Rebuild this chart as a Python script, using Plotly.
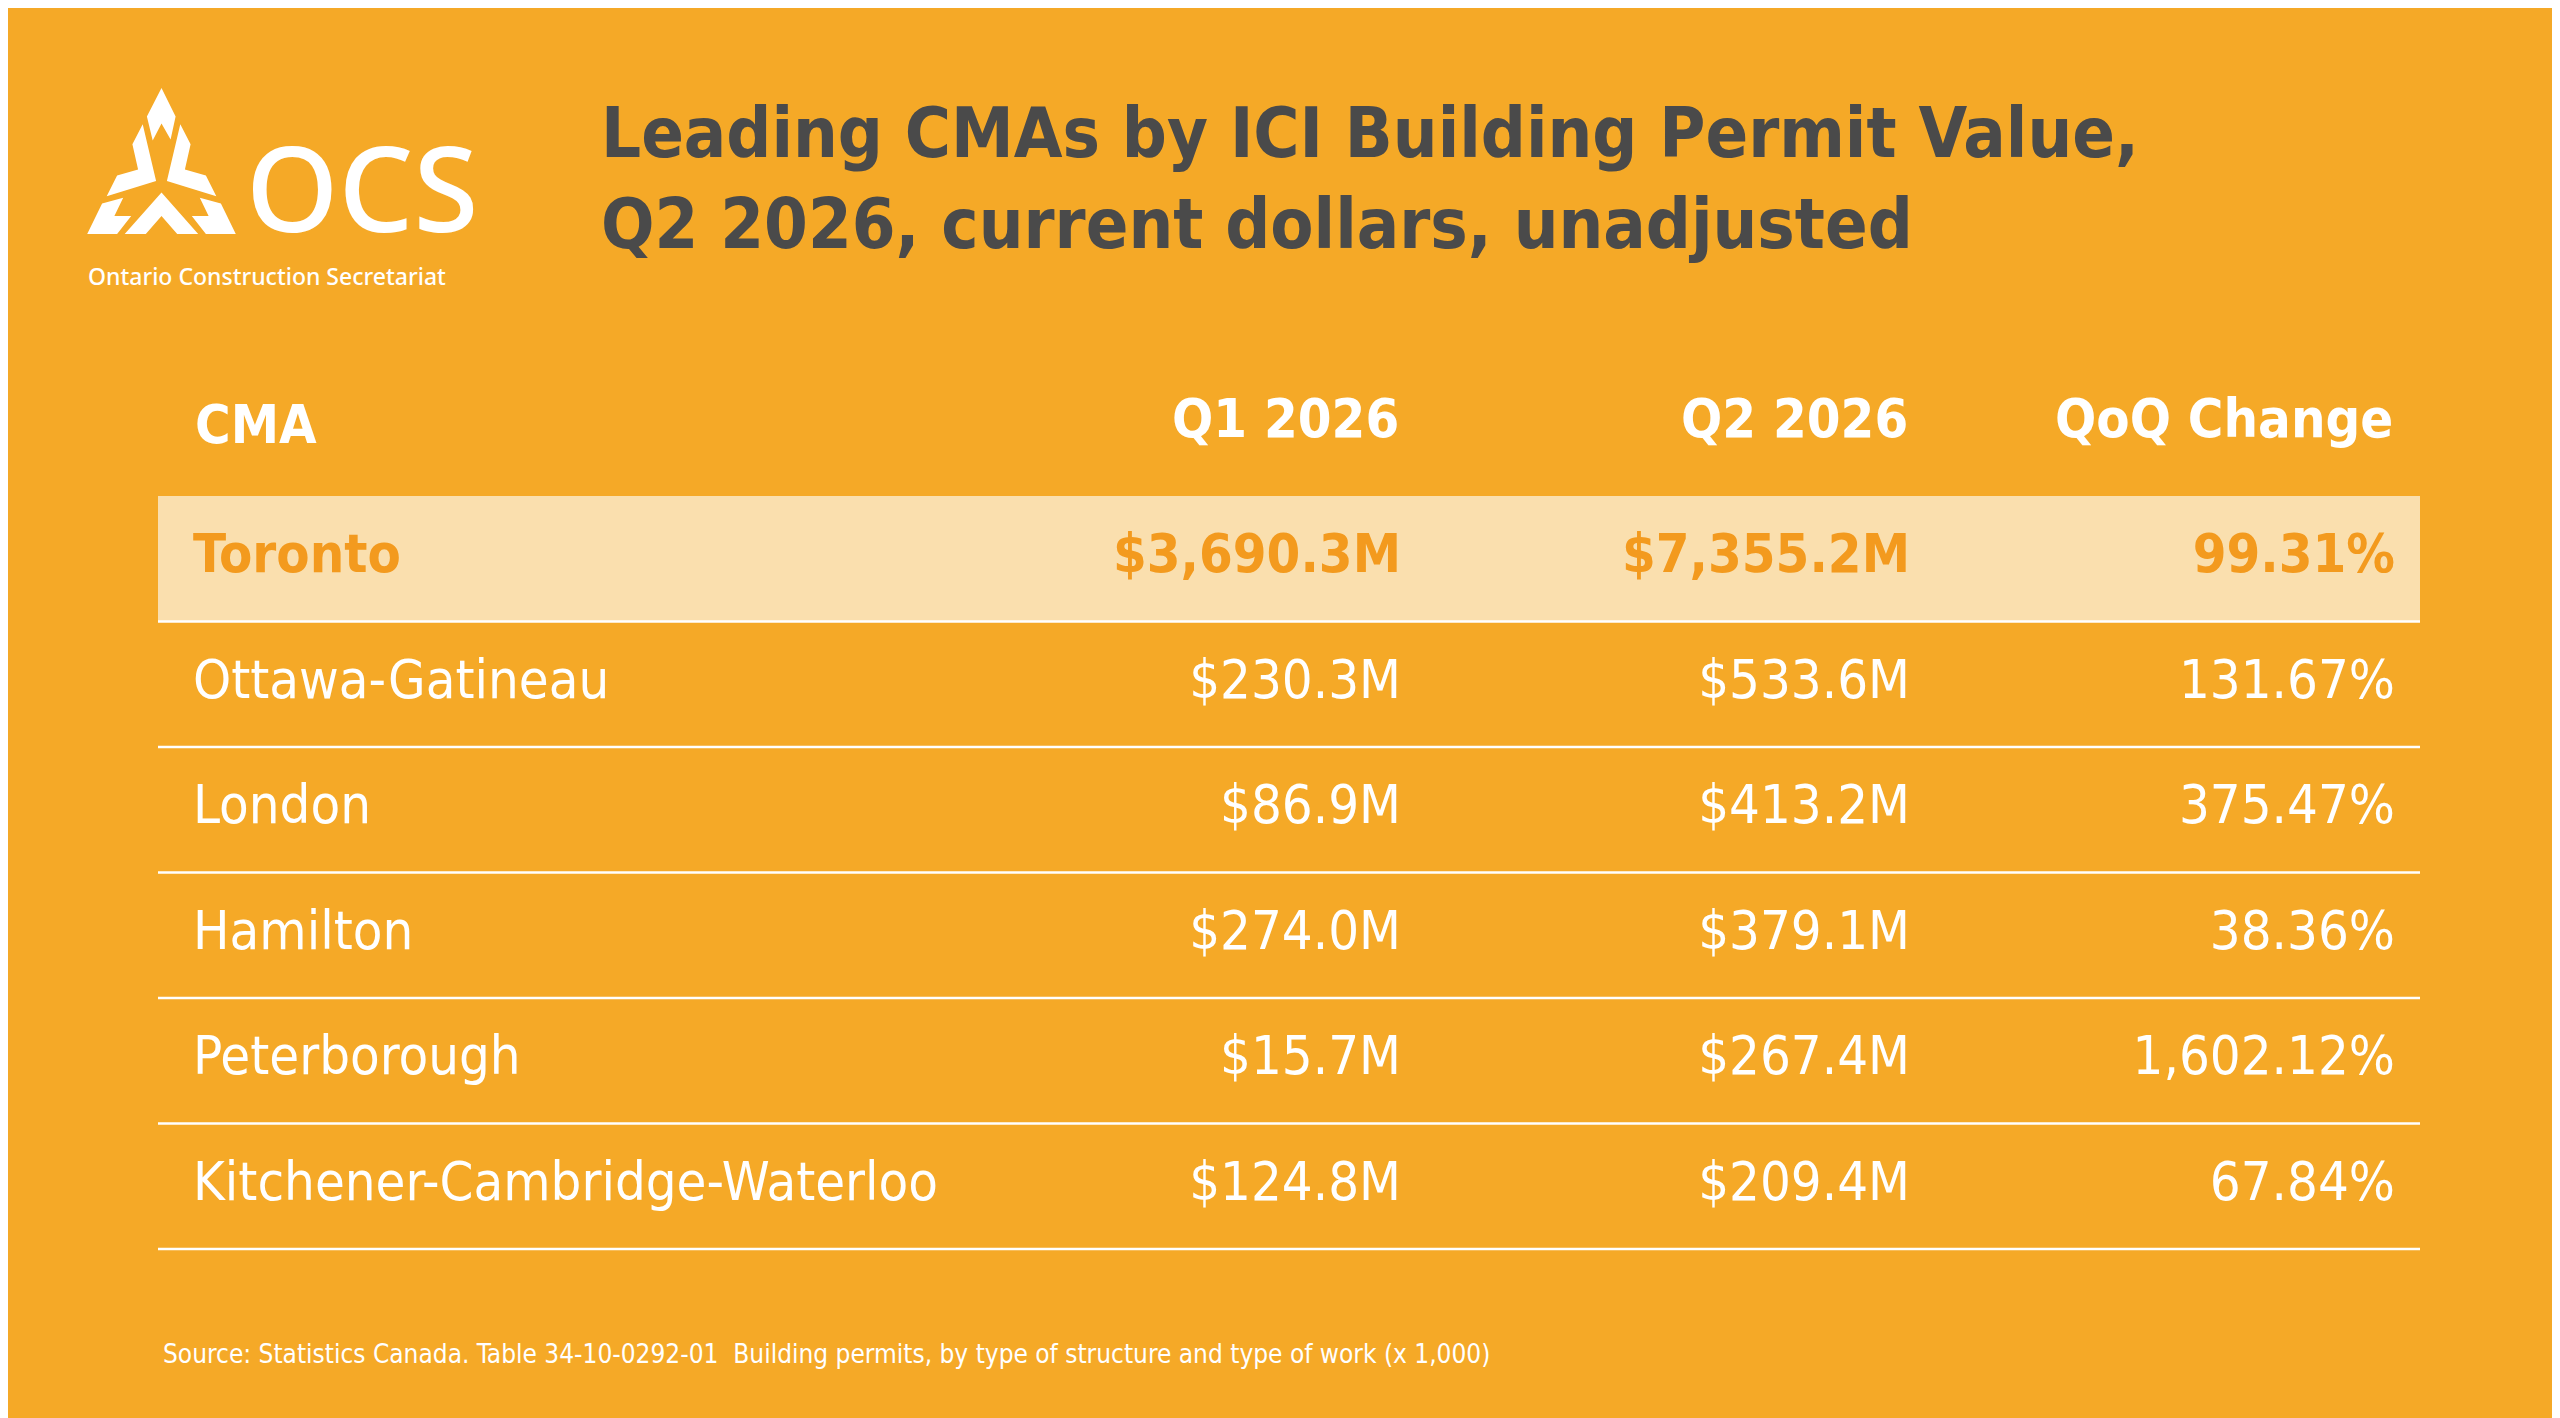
import plotly.graph_objects as go

W, H = 2560, 1418
BG = "#F5A927"
BAND = "#FADFAE"
HILITE = "#F39A1E"
DARK = "#4A4A4A"
FONT = "Liberation Sans Narrow, DejaVu Sans Condensed, Roboto, sans-serif"

cmas = ["Toronto", "Ottawa-Gatineau", "London", "Hamilton", "Peterborough",
        "Kitchener-Cambridge-Waterloo"]
q1_2026 = [3690.3, 230.3, 86.9, 274.0, 15.7, 124.8]
q2_2026 = [7355.2, 533.6, 413.2, 379.1, 267.4, 209.4]
qoq_change = [99.31, 131.67, 375.47, 38.36, 1602.12, 67.84]
headers = ["CMA", "Q1 2026", "Q2 2026", "QoQ Change"]

row_top, row_h = 488, 125.5
x_name, x_cols = 185, [1393, 1902, 2387]
left, right = 150, 2412

fig = go.Figure()

# highlight band for first row
fig.add_shape(type="rect", x0=left, x1=right, y0=row_top, y1=row_top + row_h,
              fillcolor=BAND, line_width=0, layer="below")
for i in range(len(cmas)):
    y = row_top + (i + 1) * row_h
    fig.add_shape(type="line", x0=left, x1=right, y0=y, y1=y,
                  line=dict(color="white", width=2.5))

ys = [row_top + (i + 0.5) * row_h for i in range(len(cmas))]
colors = [HILITE] + ["white"] * (len(cmas) - 1)

def cells(vals):
    return [f"<b>{v}</b>" if i == 0 else v for i, v in enumerate(vals)]

cell_font = dict(family=FONT, size=54, color=colors, weight=500)

fig.add_trace(go.Scatter(x=[x_name] * len(cmas), y=ys, text=cells(cmas), mode="text",
                         textposition="middle right", textfont=cell_font,
                         hoverinfo="skip", showlegend=False))
cols = [[f"${v:,.1f}M" for v in q1_2026],
        [f"${v:,.1f}M" for v in q2_2026],
        [f"{v:,.2f}%" for v in qoq_change]]
for xc, col in zip(x_cols, cols):
    fig.add_trace(go.Scatter(x=[xc] * len(col), y=ys, text=cells(col), mode="text",
                             textposition="middle left", textfont=cell_font,
                             hoverinfo="skip", showlegend=False))

# headers
hy = 416
fig.add_annotation(x=x_name, y=hy, text=f"<b>{headers[0]}</b>", xanchor="left",
                   showarrow=False, font=dict(family=FONT, size=54, color="white"))
for xc, h in zip(x_cols, headers[1:]):
    fig.add_annotation(x=xc, y=hy - 6, text=f"<b>{h}</b>", xanchor="right",
                       showarrow=False, font=dict(family=FONT, size=54, color="white"))

# title
fig.add_annotation(x=591, y=170, xanchor="left", yanchor="middle", align="left",
                   text="<b>Leading CMAs by ICI Building Permit Value,<br>Q2 2026, current dollars, unadjusted</b>",
                   showarrow=False,
                   font=dict(family=FONT, size=70, color=DARK))

# source
fig.add_annotation(x=153, y=1346, xanchor="left", showarrow=False,
                   text="Source: Statistics Canada. Table 34-10-0292-01  Building permits, by type of structure and type of work (x 1,000)",
                   font=dict(family=FONT, size=26, color="white"))

# logo
def poly(pts):
    return "M " + " L ".join(f"{x},{y}" for x, y in pts) + " Z"

def mirror(pts, cx=153.5):
    return [(2 * cx - x, y) for x, y in pts]

top = [(153.5, 80), (167.6, 108.6), (162.6, 131.6), (153.5, 115.5), (144.7, 132.4), (138.9, 108.6)]
arm = [(134.7, 116.3), (148.1, 172.9), (98.7, 188.2), (109.1, 167.6), (130.1, 161.4), (124.4, 136.2)]
chev = [(153.5, 184.4), (190.2, 226.1), (169.2, 226.1), (153.5, 208.1), (137.8, 226.1), (116.7, 226.1)]
foot = [(115.2, 189.8), (106.4, 208.1), (123.2, 208.1), (109.1, 226.1), (79.2, 226.1), (94.1, 195.5)]
for p in [top, arm, mirror(arm), chev, foot, mirror(foot)]:
    fig.add_shape(type="path", path=poly(p), fillcolor="white", line_width=0)
fig.add_annotation(x=236, y=178, xanchor="left", yanchor="middle", text="OCS",
                   showarrow=False,
                   font=dict(family="Noto Sans, sans-serif", size=118, color="white", weight=500))
fig.add_annotation(x=78, y=250, xanchor="left", yanchor="top",
                   text="Ontario Construction Secretariat", showarrow=False,
                   font=dict(family="Noto Sans, sans-serif", size=23, color="white", weight=500))

fig.update_layout(width=W, height=H, paper_bgcolor=BG, plot_bgcolor=BG,
                  margin=dict(l=0, r=0, t=0, b=0),
                  xaxis=dict(range=[0, W], visible=False, fixedrange=True),
                  yaxis=dict(range=[H, 0], visible=False, fixedrange=True))
fig.write_html("out.html")
